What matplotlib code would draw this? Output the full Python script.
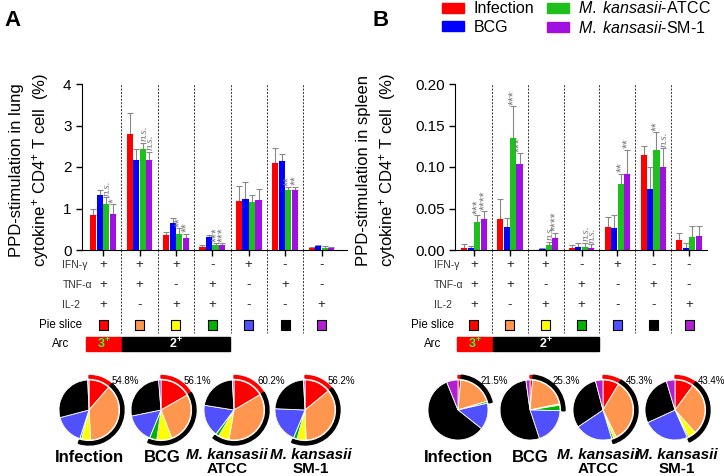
import numpy as np
import matplotlib
matplotlib.use('Agg')
import matplotlib.pyplot as plt
from matplotlib.patches import Wedge, Rectangle, Patch

plt.rcParams['font.family'] = ['Liberation Sans', 'DejaVu Sans']
plt.rcParams['mathtext.fontset'] = 'custom'
plt.rcParams['mathtext.rm'] = 'Liberation Sans'
plt.rcParams['mathtext.it'] = 'Liberation Sans:italic'
plt.rcParams['mathtext.bf'] = 'Liberation Sans:bold'

# --- dados ---
ifn = ['+', '+', '+', '-', '+', '-', '-']
tnf = ['+', '+', '-', '+', '-', '+', '-']
il2 = ['+', '-', '+', '+', '-', '-', '+']

treatments = ['Infection', 'BCG', r'$\mathit{M.\ kansasii}$-ATCC', r'$\mathit{M.\ kansasii}$-SM-1']
bar_colors = ['#FF0000', '#0000FF', '#1EC01E', '#A010E0']
slice_colors = ['#FF0000', '#FF9650', '#FFFF00', '#00B400', '#5050FF', '#000000', '#B020D0']

# pulmao (%)
lung_inf = [0.84, 2.79, 0.36, 0.07, 1.18, 2.10, 0.05]
lung_bcg = [1.33, 2.18, 0.64, 0.31, 1.24, 2.14, 0.10]
lung_atcc = [1.11, 2.43, 0.39, 0.12, 1.16, 1.45, 0.06]
lung_sm1 = [0.87, 2.18, 0.30, 0.12, 1.20, 1.45, 0.05]
lung_inf_err = [0.15, 0.50, 0.08, 0.04, 0.36, 0.35, 0.03]
lung_bcg_err = [0.12, 0.25, 0.12, 0.05, 0.39, 0.17, 0.02]
lung_atcc_err = [0.17, 0.16, 0.13, 0.04, 0.17, 0.07, 0.03]
lung_sm1_err = [0.24, 0.19, 0.09, 0.04, 0.26, 0.08, 0.02]
lung_sig = [('n.s.', '*'), ('n.s.', 'n.s.'), ('**', '**'), ('***', '***'), ('', ''), ('**', '**'), ('', '')]
lung_pct = ['54.8%', '56.1%', '60.2%', '56.2%']

# baco (%)
spl_inf = [0.003, 0.037, 0.000, 0.002, 0.028, 0.114, 0.012]
spl_bcg = [0.002, 0.028, 0.001, 0.004, 0.027, 0.073, 0.003]
spl_atcc = [0.034, 0.135, 0.006, 0.004, 0.080, 0.120, 0.016]
spl_sm1 = [0.037, 0.104, 0.015, 0.003, 0.091, 0.100, 0.017]
spl_inf_err = [0.004, 0.025, 0.000, 0.004, 0.012, 0.011, 0.009]
spl_bcg_err = [0.003, 0.011, 0.002, 0.004, 0.015, 0.027, 0.005]
spl_atcc_err = [0.008, 0.038, 0.004, 0.005, 0.012, 0.022, 0.013]
spl_sm1_err = [0.010, 0.013, 0.006, 0.004, 0.030, 0.023, 0.012]
spl_sig = [('***', '****'), ('***', '***'), ('n.s.', '****'), ('n.s.', 'n.s.'), ('**', '**'), ('**', 'n.s.'), ('', '')]
spl_pct = ['21.5%', '25.3%', '45.3%', '43.4%']

W, H = 724, 476
fig = plt.figure(figsize=(W / 100, H / 100), dpi=100)


def px_axes(l, t, r, b):
    return fig.add_axes([l / W, 1 - b / H, (r - l) / W, (b - t) / H])


# eixo para as pizzas (coordenadas em pixels)
axp = fig.add_axes([0, 0, 1, 1])


def draw_panel(left, right, xlim, means, errs, sig, ymax, yticks, yfmt, ylabel, ylab_x,
               pie_cx, pie_lx, pcts, letter, letter_x):
    ax = px_axes(left, 84, right, 250)
    x = np.arange(7)
    for k in range(4):
        xs = x + (k - 1.5) * 0.18
        ax.bar(xs, means[k], width=0.17, color=bar_colors[k], zorder=2)
        ax.errorbar(xs, means[k], yerr=[np.zeros(7), errs[k]], fmt='none', ecolor='#888888',
                    elinewidth=0.8, capsize=2, capthick=0.8, zorder=1)
    # significancia (verde e roxo)
    for g in range(7):
        for j, k in enumerate([2, 3]):
            lab = sig[g][j]
            if not lab:
                continue
            xx = g + (k - 1.5) * 0.18 + 0.03
            yy = means[k][g] + errs[k][g] + ymax * 0.008
            if lab == 'n.s.':
                ax.text(xx, yy, lab, rotation=90, ha='center', va='bottom', fontsize=8,
                        color='#777777', family='Liberation Serif', style='italic')
            else:
                ax.text(xx, yy, lab, rotation=90, ha='center', va='bottom', fontsize=9,
                        color='#777777')
    for d in np.arange(0.5, 6, 1):
        ax.axvline(d, color='#333333', lw=0.7, ls=(0, (2, 1.5)), zorder=0)
    ax.set_xlim(*xlim)
    ax.set_ylim(0, ymax)
    ax.set_yticks(yticks)
    ax.set_yticklabels([yfmt.format(v) for v in yticks], fontsize=11)
    ax.set_xticks(x)
    ax.set_xticklabels([])
    ax.tick_params(direction='out', length=4, width=1)
    ax.spines['top'].set_visible(False)
    ax.spines['right'].set_visible(False)
    fig.text(ylab_x / W, 1 - 170 / H, ylabel, rotation=90, ha='center', va='center',
             multialignment='center', fontsize=12, linespacing=1.35)

    # tabela
    at = px_axes(left, 250, right, 356)
    at.set_xlim(*xlim)
    at.set_ylim(4.55, -0.75)
    at.axis('off')
    for d in np.arange(0.5, 6, 1):
        at.plot([d, d], [-0.75, 3.4], color='#333333', lw=0.7, ls=(0, (2, 1.5)))
    for r, (name, row) in enumerate([('IFN-γ', ifn), ('TNF-α', tnf), ('IL-2', il2)]):
        at.text(-1.12, r, name, ha='left', va='center', fontsize=7.5, color='#333333', clip_on=False)
        for g in range(7):
            at.text(g, r, row[g], ha='center', va='center', fontsize=9.5, color='#222222')
    at.text(-1.16, 3, 'Pie slice', ha='center', va='center', fontsize=8.3, clip_on=False)
    at.text(-1.16, 3.95, 'Arc', ha='center', va='center', fontsize=8.3, clip_on=False)
    at.scatter(x, [3] * 7, marker='s', s=42, c=slice_colors, edgecolors='black', linewidths=0.8)
    at.add_patch(Rectangle((-0.47, 3.6), 0.97, 0.7, color='#FF0000', clip_on=False))
    at.add_patch(Rectangle((0.52, 3.6), 2.96, 0.7, color='#000000', clip_on=False))
    at.text(0.015, 3.97, r'$\mathbf{3^{+}}$', ha='center', va='center', color='#33FF33', fontsize=9)
    at.text(2.0, 3.97, r'$\mathbf{2^{+}}$', ha='center', va='center', color='white', fontsize=9)

    # pizzas
    R = 30
    cy = H - 410
    for t in range(4):
        vals = np.array([means[t][g] for g in range(7)])
        cx = pie_cx[t]
        axp.pie(vals, colors=slice_colors, startangle=90, counterclock=False, center=(cx, cy),
                radius=R, wedgeprops=dict(edgecolor='white', linewidth=0.6))
        f3 = vals[0] / vals.sum()
        f2 = vals[1:4].sum() / vals.sum()
        axp.add_patch(Wedge((cx, cy), R + 4.5, 90 - 360 * f3, 90, width=2.6, color='#FF0000'))
        axp.add_patch(Wedge((cx, cy), R + 5, 90 - 360 * (f3 + f2), 90 - 360 * f3, width=3.2,
                            color='#000000'))
        axp.text(cx + 23, H - 381, pcts[t], ha='left', va='center', fontsize=7)
    names = ['Infection', 'BCG']
    for t in range(2):
        axp.text(pie_lx[t], H - 457, names[t], ha='center', va='center', fontsize=12,
                 fontweight='bold')
    for t, sub in zip([2, 3], ['ATCC', 'SM-1']):
        axp.text(pie_lx[t], H - 455, 'M. kansasii', ha='center', va='center', fontsize=11,
                 fontweight='bold', style='italic')
        axp.text(pie_lx[t], H - 469, sub, ha='center', va='center', fontsize=11,
                 fontweight='bold')

    fig.text(letter_x / W, 1 - 21 / H, letter, fontsize=16, fontweight='bold', ha='left', va='center')


draw_panel(82, 347, (-0.58, 6.7),
           [lung_inf, lung_bcg, lung_atcc, lung_sm1],
           [lung_inf_err, lung_bcg_err, lung_atcc_err, lung_sm1_err],
           lung_sig, 4, [0, 1, 2, 3, 4], '{:g}',
           'PPD-stimulation in lung\ncytokine$^{+}$ CD4$^{+}$ T cell  (%)', 30,
           [89, 161, 234, 305], [89, 162, 227, 311], lung_pct, 'A', 4)

draw_panel(455, 707, (-0.53, 6.5),
           [spl_inf, spl_bcg, spl_atcc, spl_sm1],
           [spl_inf_err, spl_bcg_err, spl_atcc_err, spl_sm1_err],
           spl_sig, 0.2, [0, 0.05, 0.10, 0.15, 0.20], '{:.2f}',
           'PPD-stimulation in spleen\ncytokine$^{+}$ CD4$^{+}$ T cell  (%)', 377,
           [458, 530, 603, 675], [458, 530, 598, 677], spl_pct, 'B', 372)

axp.set_xlim(0, W)
axp.set_ylim(0, H)
axp.set_aspect('auto')
axp.axis('off')

handles = [Patch(color=c) for c in bar_colors]
fig.legend(handles, treatments, loc='upper left', bbox_to_anchor=(436 / W, 1 + 6 / H),
           ncol=2, frameon=False, fontsize=11.5, handlelength=1.35, handleheight=0.55,
           handletextpad=0.6, columnspacing=0.8, labelspacing=0.2, borderaxespad=0)

fig.savefig('out.png', dpi=100)
